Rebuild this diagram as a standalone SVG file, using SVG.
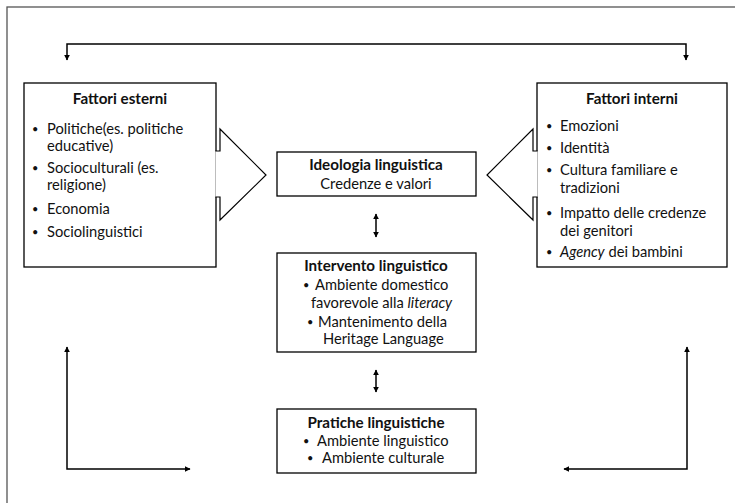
<svg xmlns="http://www.w3.org/2000/svg" width="735" height="503" viewBox="0 0 735 503">
<defs>
<marker id="ah" viewBox="0 0 10 10" refX="9" refY="5" markerWidth="6" markerHeight="6" markerUnits="userSpaceOnUse" orient="auto-start-reverse">
<path d="M0,0 L10,5 L0,10 z" fill="#000"/>
</marker>
<style>
.box{fill:#fff;stroke:#000;stroke-width:1.3}
.con{fill:none;stroke:#000;stroke-width:1.5}
.blk{fill:#fff;stroke:#000;stroke-width:1.2}
text{font-family:Lato,"Liberation Sans",sans-serif;font-size:14.7px;fill:#111}
.t{font-weight:bold;font-size:15.2px}
.c{text-anchor:middle}
.b{font-size:11px}
</style>
</defs>
<rect width="735" height="503" fill="#fff"/>
<rect x="7" y="7" width="740" height="500" fill="none" stroke="#555" stroke-width="1.3"/>

<g id="connectors">
<path class="con" d="M67,60 V44 H686 V60" marker-start="url(#ah)" marker-end="url(#ah)"/>
<path class="con" d="M67,347 V469 H190" marker-start="url(#ah)" marker-end="url(#ah)"/>
<path class="con" d="M687,347 V469 H564" marker-start="url(#ah)" marker-end="url(#ah)"/>
<path class="con" d="M376,214 V237" stroke-width="1.2" marker-start="url(#ah)" marker-end="url(#ah)"/>
<path class="con" d="M376,370 V392" stroke-width="1.2" marker-start="url(#ah)" marker-end="url(#ah)"/>
</g>

<g id="fattori-esterni">
<rect class="box" x="24" y="83" width="192" height="184"/>
<text class="t c" x="120" y="104">Fattori esterni</text>
<text class="b" x="32" y="133">•</text><text x="47" y="134">Politiche(es. politiche</text>
<text x="47" y="151">educative)</text>
<text class="b" x="32" y="172">•</text><text x="47" y="173">Socioculturali (es.</text>
<text x="47" y="190">religione)</text>
<text class="b" x="32" y="213">•</text><text x="47" y="214">Economia</text>
<text class="b" x="32" y="236">•</text><text x="47" y="237">Sociolinguistici</text>
<path class="blk" d="M215.4,151 H220 V129 L266,175 L220,220 V197 H215.4"/>
</g>

<g id="fattori-interni">
<rect class="box" x="537" y="83" width="190" height="184"/>
<text class="t c" x="632" y="104">Fattori interni</text>
<text class="b" x="546" y="130">•</text><text x="560" y="131">Emozioni</text>
<text class="b" x="546" y="152">•</text><text x="560" y="153">Identità</text>
<text class="b" x="546" y="174">•</text><text x="560" y="175">Cultura familiare e</text>
<text x="560" y="193">tradizioni</text>
<text class="b" x="546" y="217">•</text><text x="560" y="218">Impatto delle credenze</text>
<text x="560" y="236">dei genitori</text>
<text class="b" x="546" y="256">•</text><text x="560" y="257"><tspan font-style="italic">Agency</tspan> dei bambini</text>
<path class="blk" d="M537.6,151 H533 V129 L487,175 L533,220 V197 H537.6"/>
</g>

<g id="ideologia">
<rect class="box" x="277" y="152" width="199" height="44"/>
<text class="t c" x="376" y="170">Ideologia linguistica</text>
<text class="c" x="376" y="189">Credenze e valori</text>
</g>

<g id="intervento">
<rect class="box" x="277" y="253" width="199" height="99"/>
<text class="t c" x="376" y="271">Intervento linguistico</text>
<text class="b" x="303" y="289">•</text><text x="315" y="290">Ambiente domestico</text>
<text x="311" y="308">favorevole alla <tspan font-style="italic">literacy</tspan></text>
<text class="b" x="307" y="326">•</text><text x="318" y="327">Mantenimento della</text>
<text x="323" y="344">Heritage Language</text>
</g>

<g id="pratiche">
<rect class="box" x="277" y="409" width="199" height="64"/>
<text class="t c" x="376" y="428">Pratiche linguistiche</text>
<text class="b" x="303" y="445">•</text><text x="317" y="446">Ambiente linguistico</text>
<text class="b" x="307" y="462">•</text><text x="322" y="463">Ambiente culturale</text>
</g>
</svg>
